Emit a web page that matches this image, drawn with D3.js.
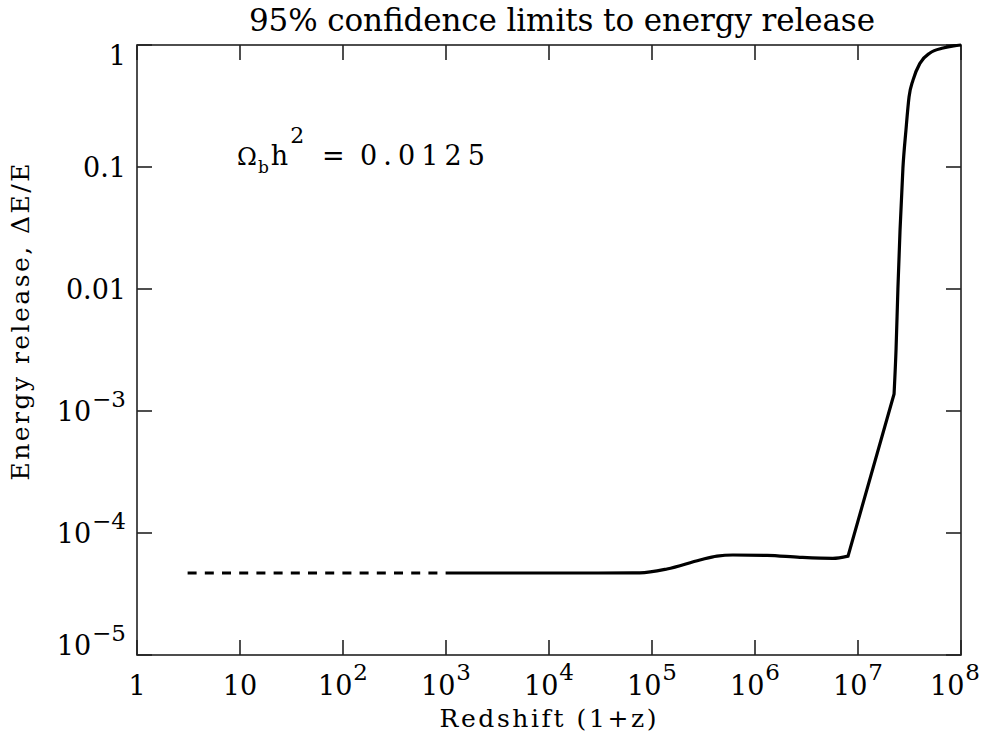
<!DOCTYPE html>
<html>
<head>
<meta charset="utf-8">
<script src="https://cdn.jsdelivr.net/npm/d3@7"></script>
<style>
  html, body { margin: 0; padding: 0; background: #fff; }
  text { font-family: "DejaVu Serif", "Liberation Serif", serif; fill: #000; }
</style>
</head>
<body>
<svg id="chart" width="989" height="737"></svg>
<script>
// ---- data ----
const xTickValues = [1, 10, 1e2, 1e3, 1e4, 1e5, 1e6, 1e7, 1e8];
const xTickBase = ["1", "10", "10", "10", "10", "10", "10", "10", "10"];
const xTickExp  = ["", "", "2", "3", "4", "5", "6", "7", "8"];

const yTickValues = [1e-5, 1e-4, 1e-3, 1e-2, 1e-1, 1];
const yTickBase = ["10", "10", "10", "0.01", "0.1", "1"];
const yTickExp  = ["\u22125", "\u22124", "\u22123", "", "", ""];

// dashed extrapolation (low redshift)
const dashZ = [3.1, 1000];
const dashE = [4.7e-5, 4.7e-5];

// smooth part of the limit curve
const bumpZ = [1000, 3e4, 7.6e4, 1.4e5, 2.92e5, 4.27e5, 6.1e5, 1.31e6, 2.73e6, 5.7e6, 8.0e6];
const bumpE = [4.7e-5, 4.7e-5, 4.71e-5, 5.07e-5, 6.01e-5, 6.47e-5, 6.6e-5, 6.55e-5, 6.32e-5, 6.2e-5, 6.47e-5];

// straight segment
const rampZ = [8.0e6, 2.24e7];
const rampE = [6.47e-5, 1.38e-3];

// steep rise to unity
const riseZ = [2.24e7, 2.34e7, 2.44e7, 2.56e7, 2.73e7, 2.92e7, 3.13e7, 3.42e7, 4.0e7, 5.0e7, 6.7e7, 8.5e7, 1e8];
const riseE = [1.38e-3, 3.16e-3, 0.01, 0.0305, 0.098, 0.20, 0.375, 0.516, 0.71, 0.86, 0.945, 0.985, 1.0];

const titleText = "95% confidence limits to energy release";
const xLabelText = "Redshift (1+z)";
const yLabelText = "Energy release, \u0394E/E";

// ---- layout ----
const svg = d3.select("#chart");
const L = 137, R = 961, T = 45, B = 655;
const x = d3.scaleLog().domain([1, 1e8]).range([L, R]);
const y = d3.scaleLog().domain([1e-5, 1]).range([B, T]);
const tickLen = 15;
const axisColor = "#222";

// frame
svg.append("rect").attr("x", L).attr("y", T).attr("width", R - L).attr("height", B - T)
  .attr("fill", "none").attr("stroke", axisColor).attr("stroke-width", 1.6);

// ticks on all four sides, pointing inward
const gt = svg.append("g").attr("stroke", axisColor).attr("stroke-width", 1.6);
xTickValues.forEach(v => {
  const px = x(v);
  gt.append("line").attr("x1", px).attr("x2", px).attr("y1", B).attr("y2", B - tickLen);
  gt.append("line").attr("x1", px).attr("x2", px).attr("y1", T).attr("y2", T + tickLen);
});
yTickValues.forEach(v => {
  const py = y(v);
  gt.append("line").attr("x1", L).attr("x2", L + tickLen).attr("y1", py).attr("y2", py);
  gt.append("line").attr("x1", R).attr("x2", R - tickLen).attr("y1", py).attr("y2", py);
});

// x tick labels
xTickValues.forEach((v, i) => {
  const t = svg.append("text").attr("x", x(v)).attr("y", 695)
    .attr("text-anchor", "middle").attr("font-size", 27);
  t.append("tspan").text(xTickBase[i]);
  if (xTickExp[i]) {
    t.append("tspan").attr("dy", -15).attr("dx", 1).attr("font-size", 23).text(xTickExp[i]);
  }
  const bb = t.node().getBBox();
  if (bb.x + bb.width > 980) t.attr("x", x(v) - (bb.x + bb.width - 980));
});

// y tick labels
yTickValues.forEach((v, i) => {
  let by = y(v) + 10;
  by = Math.max(T + 20, Math.min(B, by));
  const t = svg.append("text").attr("x", 126).attr("y", by)
    .attr("text-anchor", "end").attr("font-size", 27);
  t.append("tspan").text(yTickBase[i]);
  if (yTickExp[i]) {
    t.append("tspan").attr("dy", -14).attr("dx", 1).attr("font-size", 23).text(yTickExp[i]);
  }
});

// title
svg.append("text").attr("x", 562).attr("y", 31).attr("text-anchor", "middle")
  .attr("font-size", 31).attr("textLength", 626).attr("lengthAdjust", "spacing")
  .text(titleText);

// x label
svg.append("text").attr("x", 548).attr("y", 727).attr("text-anchor", "middle")
  .attr("font-size", 25).attr("textLength", 217).attr("lengthAdjust", "spacing")
  .text(xLabelText);

// y label
svg.append("text").attr("transform", "translate(29,322) rotate(-90)")
  .attr("text-anchor", "middle")
  .attr("font-size", 25).attr("textLength", 317).attr("lengthAdjust", "spacing")
  .text(yLabelText);

// inset annotation: Omega_b h^2 = 0.0125
const ann = svg.append("g");
const omega = ann.append("text").attr("x", 237).attr("y", 165).attr("font-size", 24).text("\u03A9");
let cx = 237 + omega.node().getComputedTextLength();
const sub = ann.append("text").attr("x", cx + 1).attr("y", 173).attr("font-size", 17).text("b");
cx += 1 + sub.node().getComputedTextLength();
const hh = ann.append("text").attr("x", cx + 2).attr("y", 165).attr("font-size", 27).text("h");
cx += 2 + hh.node().getComputedTextLength();
ann.append("text").attr("x", cx + 2).attr("y", 143).attr("font-size", 22).text("2");
ann.append("text").attr("x", 322).attr("y", 165).attr("font-size", 27).text("=");
ann.append("text").attr("x", 360).attr("y", 165).attr("font-size", 27)
  .attr("textLength", 125).attr("lengthAdjust", "spacing").text("0.0125");

// ---- curves ----
const pts = (zs, es) => zs.map((z, i) => [z, es[i]]);
const lineMono = d3.line().x(d => x(d[0])).y(d => y(d[1])).curve(d3.curveMonotoneX);
const lineLin = d3.line().x(d => x(d[0])).y(d => y(d[1]));

svg.append("path").attr("d", lineLin(pts(dashZ, dashE)))
  .attr("fill", "none").attr("stroke", "#000").attr("stroke-width", 3.2)
  .attr("stroke-dasharray", "9,8.2");

const solid = svg.append("g").attr("fill", "none").attr("stroke", "#000")
  .attr("stroke-width", 3.2).attr("stroke-linejoin", "miter").attr("stroke-linecap", "butt");
const d1 = lineMono(pts(bumpZ, bumpE));
const d2 = lineLin(pts(rampZ, rampE)).replace(/^M[^L]*/, "");
const d3s = lineMono(pts(riseZ, riseE)).replace(/^M[^CL]*/, "");
solid.append("path").attr("d", d1 + d2 + d3s);
</script>
</body>
</html>
